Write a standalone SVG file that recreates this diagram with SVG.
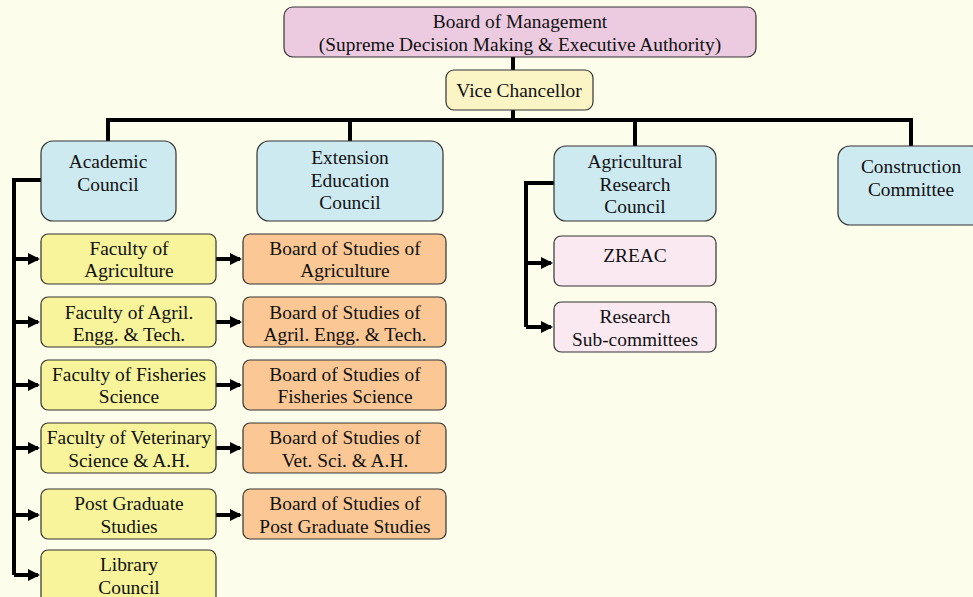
<svg xmlns="http://www.w3.org/2000/svg" width="973" height="597" viewBox="0 0 973 597">
<style>
.box{stroke:#333;stroke-width:1.2}
.pink{fill:#eccbe1}
.vc{fill:#fbf5c6}
.blue{fill:#ceeaf1}
.yel{fill:#f7f49b}
.ora{fill:#fbc895}
.lpink{fill:#fbe9f2}
text{font-family:"Liberation Serif","Times New Roman",serif;font-size:19.4px;fill:#111;text-anchor:middle;dominant-baseline:central}
.ln{fill:none;stroke:#000;stroke-width:4}
</style>
<defs>
<marker id="ah" markerWidth="3" markerHeight="3" refX="2.5" refY="1.5" orient="auto" markerUnits="strokeWidth">
<path d="M0,0 L3,1.5 L0,3 z" fill="#000"/>
</marker>
</defs>
<rect width="973" height="597" fill="#fdfdec"/>
<g id="connectors">
<path class="ln" d="M513,57 V70"/>
<path class="ln" d="M513,110 V120"/>
<path class="ln" d="M108,141 V120 H911 V146"/>
<path class="ln" d="M350,120 V141"/>
<path class="ln" d="M635,120 V146"/>
<path class="ln" d="M41,180 H14 V575"/>
<path class="ln" d="M14,259 H38" marker-end="url(#ah)"/>
<path class="ln" d="M14,322 H38" marker-end="url(#ah)"/>
<path class="ln" d="M14,385 H38" marker-end="url(#ah)"/>
<path class="ln" d="M14,448 H38" marker-end="url(#ah)"/>
<path class="ln" d="M14,515 H38" marker-end="url(#ah)"/>
<path class="ln" d="M14,575 H38" marker-end="url(#ah)"/>
<path class="ln" d="M216,259 H240" marker-end="url(#ah)"/>
<path class="ln" d="M216,322 H240" marker-end="url(#ah)"/>
<path class="ln" d="M216,385 H240" marker-end="url(#ah)"/>
<path class="ln" d="M216,448 H240" marker-end="url(#ah)"/>
<path class="ln" d="M216,515 H240" marker-end="url(#ah)"/>
<path class="ln" d="M554,183 H526 V327"/>
<path class="ln" d="M526,263 H551" marker-end="url(#ah)"/>
<path class="ln" d="M526,327 H551" marker-end="url(#ah)"/>
</g>
<g id="bom"><rect class="box pink" x="284" y="7" width="472" height="50" rx="9"/><text x="520" y="21">Board of Management</text><text x="520" y="44">(Supreme Decision Making &amp; Executive Authority)</text></g>
<g id="vc"><rect class="box vc" x="446" y="70" width="147" height="40" rx="8"/><text x="519" y="90">Vice Chancellor</text></g>
<g id="academic"><rect class="box blue" x="41" y="141" width="135" height="80" rx="12"/><text x="108" y="161">Academic</text><text x="108" y="184">Council</text></g>
<g id="extension"><rect class="box blue" x="257" y="141" width="186" height="80" rx="12"/><text x="350" y="157">Extension</text><text x="350" y="180">Education</text><text x="350" y="202">Council</text></g>
<g id="arc"><rect class="box blue" x="554" y="146" width="162" height="75" rx="12"/><text x="635" y="161">Agricultural</text><text x="635" y="184">Research</text><text x="635" y="206">Council</text></g>
<g id="construction"><rect class="box blue" x="838" y="146" width="145" height="79" rx="12"/><text x="911" y="166">Construction</text><text x="911" y="189">Committee</text></g>
<g id="fac-agri"><rect class="box yel" x="41" y="234" width="175" height="50" rx="7"/><text x="129" y="248">Faculty of</text><text x="129" y="270">Agriculture</text></g>
<g id="fac-engg"><rect class="box yel" x="41" y="297" width="175" height="50" rx="7"/><text x="129" y="312">Faculty of Agril.</text><text x="129" y="334">Engg. &amp; Tech.</text></g>
<g id="fac-fish"><rect class="box yel" x="41" y="360" width="175" height="50" rx="7"/><text x="129" y="374">Faculty of Fisheries</text><text x="129" y="396">Science</text></g>
<g id="fac-vet"><rect class="box yel" x="41" y="423" width="175" height="50" rx="7"/><text x="129" y="437">Faculty of Veterinary</text><text x="129" y="460">Science &amp; A.H.</text></g>
<g id="fac-pg"><rect class="box yel" x="41" y="489" width="175" height="50" rx="7"/><text x="129" y="503">Post Graduate</text><text x="129" y="526">Studies</text></g>
<g id="library"><rect class="box yel" x="41" y="550" width="175" height="60" rx="7"/><text x="129" y="564">Library</text><text x="129" y="587">Council</text></g>
<g id="bos-agri"><rect class="box ora" x="243" y="234" width="203" height="50" rx="7"/><text x="345" y="248">Board of Studies of</text><text x="345" y="270">Agriculture</text></g>
<g id="bos-engg"><rect class="box ora" x="243" y="297" width="203" height="50" rx="7"/><text x="345" y="312">Board of Studies of</text><text x="345" y="334">Agril. Engg. &amp; Tech.</text></g>
<g id="bos-fish"><rect class="box ora" x="243" y="360" width="203" height="50" rx="7"/><text x="345" y="374">Board of Studies of</text><text x="345" y="396">Fisheries Science</text></g>
<g id="bos-vet"><rect class="box ora" x="243" y="423" width="203" height="50" rx="7"/><text x="345" y="437">Board of Studies of</text><text x="345" y="460">Vet. Sci. &amp; A.H.</text></g>
<g id="bos-pg"><rect class="box ora" x="243" y="489" width="203" height="50" rx="7"/><text x="345" y="503">Board of Studies of</text><text x="345" y="526">Post Graduate Studies</text></g>
<g id="zreac"><rect class="box lpink" x="554" y="236" width="162" height="50" rx="7"/><text x="635" y="255">ZREAC</text></g>
<g id="research-sub"><rect class="box lpink" x="554" y="302" width="162" height="50" rx="7"/><text x="635" y="316">Research</text><text x="635" y="339">Sub-committees</text></g>
</svg>
